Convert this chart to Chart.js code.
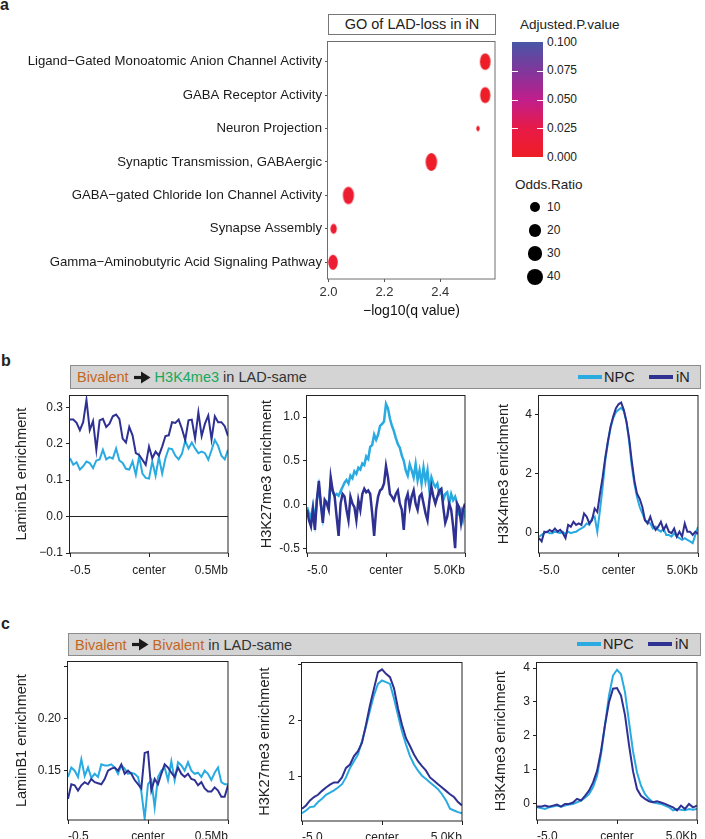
<!DOCTYPE html>
<html>
<head>
<meta charset="utf-8">
<script src="https://cdn.jsdelivr.net/npm/chart.js@4.4.1/dist/chart.umd.min.js"></script>
<style>
  body { margin: 0; background: #fff; width: 705px; height: 839px; overflow: hidden; position: relative;
         font-family: 'Liberation Sans', Arial, sans-serif; color: #222; }
  canvas { position: absolute; }
  .abs { position: absolute; white-space: nowrap; }
  .panel { position: absolute; font-weight: bold; font-size: 16px; line-height: 16px; }
  .hdr { position: absolute; box-sizing: border-box; background: #d4d4d4; border: 1px solid #8c8c8c;
         font-size: 14.5px; display: flex; align-items: center; padding-left: 6px; white-space: nowrap; }
  .key { position: absolute; height: 4px; width: 24px; }
  .keytxt { position: absolute; font-size: 14.5px; line-height: 17px; }
</style>
</head>
<body>

<div class="panel" style="left:0;top:-3px;">a</div>
<div class="panel" style="left:1px;top:353px;">b</div>
<div class="panel" style="left:1px;top:616px;">c</div>

<div class="abs" style="left:328px;top:14px;width:168px;height:21px;box-sizing:border-box;border:1px solid #777;font-size:14.5px;line-height:19px;text-align:center;">GO of LAD-loss in iN</div>
<div class="abs" style="left:520px;top:17px;font-size:13.5px;">Adjusted.P.value</div>
<div class="abs" style="left:515px;top:177px;font-size:13.5px;">Odds.Ratio</div>
<div id="colorbar" class="abs" style="left:512px;top:42px;width:31px;height:115px;"></div>

<div class="hdr" style="left:70px;top:365px;width:631px;height:24px;">
  <span style="color:#c4661f">Bivalent</span>
  <svg width="17" height="13" style="margin:0 4px 0 5px"><path d="M0 6.5 H9" stroke="#1a1a1a" stroke-width="3.2"/><path d="M7 0.5 L16.5 6.5 L7 12.5 Z" fill="#1a1a1a"/></svg>
  <span style="color:#17a85a">H3K4me3</span><span style="color:#333">&nbsp;in LAD-same</span>
</div>
<div class="key" style="left:578px;top:375px;background:#29abe2"></div>
<div class="keytxt" style="left:604px;top:369px;">NPC</div>
<div class="key" style="left:649px;top:375px;background:#2e3192"></div>
<div class="keytxt" style="left:676px;top:369px;">iN</div>

<div class="hdr" style="left:68px;top:633px;width:633px;height:23px;">
  <span style="color:#c4661f">Bivalent</span>
  <svg width="17" height="13" style="margin:0 4px 0 5px"><path d="M0 6.5 H9" stroke="#1a1a1a" stroke-width="3.2"/><path d="M7 0.5 L16.5 6.5 L7 12.5 Z" fill="#1a1a1a"/></svg>
  <span style="color:#c4661f">Bivalent</span><span style="color:#333">&nbsp;in LAD-same</span>
</div>
<div class="key" style="left:577px;top:642px;background:#29abe2"></div>
<div class="keytxt" style="left:603px;top:636px;">NPC</div>
<div class="key" style="left:648px;top:642px;background:#2e3192"></div>
<div class="keytxt" style="left:675px;top:636px;">iN</div>

<script>
// ---- panel a: GO terms ----
const goTerms = ['Ligand\u2212Gated Monoatomic Anion Channel Activity', 'GABA Receptor Activity', 'Neuron Projection',
  'Synaptic Transmission, GABAergic', 'GABA\u2212gated Chloride Ion Channel Activity', 'Synapse Assembly',
  'Gamma\u2212Aminobutyric Acid Signaling Pathway'];
const goLogQ = [2.561, 2.561, 2.535, 2.368, 2.071, 2.018, 2.016];
const goAdjP = [0.0027, 0.0027, 0.0029, 0.0043, 0.0085, 0.0096, 0.0096];
const goOdds = [40, 36, 1, 48, 44, 10, 30];
const goXTicks = [2.0, 2.2, 2.4];
const oddsLegend = [10, 20, 30, 40];
const pLegendLabels = ['0.100', '0.075', '0.050', '0.025', '0.000'];

// ---- panel b ----
const laminTicksB = [-0.1, 0, 0.1, 0.2, 0.3];
const laminLabelsB = ['\u22120.1', '0.0', '0.1', '0.2', '0.3'];
const mbTicks = [-0.5, 0, 0.5];
const mbLabels = ['-0.5', 'center', '0.5Mb'];
const kbTicks = [-5, 0, 5];
const kbLabels = ['-5.0', 'center', '5.0Kb'];
const bLaminIN = [0.266,0.266,0.257,0.237,0.259,0.32,0.237,0.262,0.183,0.264,
  0.268,0.246,0.255,0.275,0.28,0.268,0.214,0.203,0.246,0.223,
  0.174,0.169,0.156,0.142,0.192,0.16,0.178,0.167,0.192,0.221,
  0.223,0.259,0.257,0.266,0.241,0.21,0.264,0.266,0.214,0.286,
  0.221,0.255,0.277,0.212,0.275,0.259,0.259,0.248,0.221];
const bLaminNPC = [0.16,0.142,0.149,0.129,0.138,0.151,0.147,0.133,0.154,0.157,
  0.183,0.157,0.163,0.159,0.187,0.154,0.147,0.131,0.129,0.151,
  0.115,0.165,0.118,0.106,0.104,0.151,0.112,0.163,0.118,0.16,
  0.187,0.185,0.167,0.157,0.172,0.208,0.187,0.203,0.187,0.174,
  0.178,0.174,0.156,0.182,0.21,0.194,0.167,0.157,0.183];
const k27TicksB = [-0.5, 0, 0.5, 1.0];
const k27LabelsB = ['-0.5', '0.0', '0.5', '1.0'];
const bK27IN = [-0.06,-0.18,-0.25,-0.06,-0.29,0.05,0.27,0.01,-0.21,0.05,
  0.01,-0.06,0.31,0.16,0.09,-0.14,-0.36,0.01,0.12,0.09,
  -0.06,-0.18,0.09,0.01,-0.03,-0.18,0.05,-0.06,0.12,0.18,
  0.14,0.16,0.12,-0.1,-0.36,-0.06,0.09,0.16,0.18,0.24,0.44,
  0.31,0.12,0.09,0.05,0.12,0.16,0.01,-0.06,-0.29,0.05,
  0.12,-0.03,0.09,0.16,0.01,-0.06,0.09,0.12,0.01,-0.1,
  -0.18,0.05,0.2,0.09,0.01,0.09,0.16,0.18,-0.03,-0.21,
  -0.14,0.01,-0.06,-0.25,-0.5,0.01,-0.03,-0.21,-0.06,0.01];
const bK27NPC = [-0.03,-0.1,-0.15,-0.02,-0.2,0.05,0.2,0.0,-0.15,0.05,
  0.03,0.0,0.25,0.15,0.1,0.12,0.1,0.15,0.2,0.25,
  0.28,0.24,0.33,0.3,0.38,0.35,0.42,0.4,0.47,0.45,
  0.55,0.52,0.66,0.68,0.8,0.74,0.8,0.9,0.92,0.95,1.15,
  1.1,0.98,0.9,0.84,0.76,0.69,0.65,0.56,0.5,0.39,
  0.33,0.46,0.39,0.31,0.46,0.28,0.39,0.24,0.42,0.27,
  0.39,0.16,0.31,0.24,0.2,0.24,0.12,0.16,0.05,0.12,
  0.14,0.01,0.12,0.05,0.09,0.01,-0.1,-0.06,-0.18,-0.06];
const k4TicksB = [0, 2, 4];
const k4LabelsB = ['0', '2', '4'];
const bK4IN = [-0.2,-0.31,0.02,0,0.08,0.02,0.13,0.02,0.08,-0.03,
  -0.2,0.25,0.19,0.36,0.25,0.3,0.25,0.64,0.53,0.3,
  0.41,0.81,0.69,1.31,1.87,2.54,3.1,3.6,3.94,4.22,
  4.36,4.42,4.17,3.77,3.21,2.43,1.76,1.31,1.14,0.86,
  0.41,0.3,0.53,0.25,0.08,0.19,0.36,0.08,0.25,0.02,
  -0.03,0.13,-0.15,0.02,-0.15,0.3,0.02,0.02,-0.09,0.02,-0.06];
const bK4NPC = [-0.15,-0.09,-0.03,0.02,-0.03,-0.03,0.02,0,-0.03,0.02,
  -0.06,0.02,-0.03,0,0.02,0.08,0.13,0.19,0.3,0.25,
  0.47,0.53,0.02,0.75,1.53,2.43,3.05,3.55,3.89,4.09,
  4.17,4.24,4.13,3.77,3.1,2.26,1.65,1.2,0.86,0.64,
  0.41,0.36,0.3,0.13,0.19,0.08,0.02,0.13,-0.09,-0.09,
  -0.15,-0.03,-0.15,-0.2,-0.26,-0.2,-0.26,-0.31,-0.37,-0.09,0.19];

// ---- panel c ----
const laminTicksC = [0.15, 0.20, 0.25];
const laminLabelsC = ['0.15', '0.20', ''];
const cLaminIN = [0.123,0.137,0.136,0.131,0.136,0.139,0.137,0.142,0.139,0.138,
  0.137,0.142,0.15,0.152,0.153,0.15,0.156,0.147,0.15,0.147,
  0.141,0.137,0.133,0.167,0.168,0.131,0.142,0.137,0.147,0.156,
  0.153,0.148,0.144,0.153,0.147,0.144,0.147,0.142,0.141,0.136,
  0.139,0.133,0.13,0.13,0.134,0.131,0.125,0.125,0.136];
const cLaminNPC = [0.144,0.153,0.15,0.144,0.161,0.145,0.153,0.143,0.147,0.144,
  0.156,0.155,0.155,0.156,0.153,0.147,0.155,0.152,0.147,0.148,
  0.147,0.144,0.13,0.104,0.137,0.141,0.115,0.144,0.15,0.153,
  0.141,0.159,0.141,0.158,0.155,0.15,0.158,0.15,0.147,0.148,
  0.144,0.15,0.147,0.141,0.148,0.153,0.139,0.137,0.137];
const k27TicksC = [1, 2, 3];
const k27LabelsC = ['1', '2', ''];
const cK27IN = [0.43,0.49,0.58,0.64,0.68,0.75,0.81,0.86,0.9,0.9,
  0.99,1.16,1.22,1.37,1.46,1.61,1.93,2.28,2.58,2.87,
  2.92,2.84,2.78,2.58,2.22,1.93,1.69,1.55,1.4,1.28,
  1.19,1.11,0.99,0.93,0.87,0.81,0.75,0.69,0.64,0.55,0.49];
const cK27NPC = [0.35,0.4,0.46,0.47,0.55,0.61,0.68,0.72,0.76,0.81,
  0.87,0.99,1.16,1.28,1.4,1.64,1.9,2.19,2.46,2.66,
  2.72,2.69,2.66,2.4,2.1,1.81,1.58,1.37,1.22,1.11,
  1.02,0.96,0.9,0.84,0.78,0.69,0.58,0.43,0.4,0.37,0.35];
const k4TicksC = [0, 1, 2, 3, 4];
const k4LabelsC = ['0', '1', '2', '3', '4'];
const cK4IN = [-0.1,-0.1,-0.07,-0.1,-0.07,-0.04,-0.1,-0.02,-0.02,0.02,
  0.13,0.08,0.22,0.37,0.61,0.95,1.54,2.32,2.99,3.39,
  3.41,3.19,2.61,1.73,0.95,0.42,0.22,0.13,0.06,0.03,
  0.06,0.02,-0.02,-0.07,-0.12,-0.21,-0.07,-0.17,-0.02,-0.12,-0.07];
const cK4NPC = [-0.12,-0.14,-0.17,-0.12,-0.1,-0.07,-0.1,-0.07,-0.04,-0.02,
  0.03,0.08,0.16,0.27,0.47,0.81,1.44,2.32,3.19,3.78,
  3.95,3.82,3.29,2.41,1.54,0.91,0.52,0.27,0.13,0.03,
  0,-0.02,-0.07,-0.12,-0.21,-0.17,-0.19,-0.21,-0.17,-0.19,-0.17];

const NPC_COLOR = '#29abe2';
const IN_COLOR = '#2e3192';
Chart.defaults.font.family = "'Liberation Sans', Arial, sans-serif";
Chart.defaults.color = '#222';

// frame around the plot area
const frame = {
  id: 'frame',
  afterDatasetsDraw(chart, args, opts) {
    const a = chart.chartArea, g = chart.ctx;
    g.save();
    g.strokeStyle = opts.color || '#222';
    g.lineWidth = 1;
    g.strokeRect(Math.round(a.left) - 0.5, Math.round(a.top) + 0.5,
      Math.round(a.right - a.left) + 0.5, Math.round(a.bottom - a.top) - 0.5);
    g.restore();
  }
};

function addCanvas(left, top, w, h) {
  const c = document.createElement('canvas');
  c.width = w; c.height = h;
  c.style.left = left + 'px';
  c.style.top = top + 'px';
  document.body.appendChild(c);
  return c;
}

// ---- GO dot plot ----
const pStops = [[0, [238, 30, 36]], [0.025, [232, 26, 72]], [0.05, [192, 30, 140]], [0.075, [128, 55, 155]], [0.1, [72, 86, 166]]];
function pColor(p) {
  for (let i = 1; i < pStops.length; i++) {
    if (p <= pStops[i][0]) {
      const [p0, c0] = pStops[i - 1], [p1, c1] = pStops[i];
      const t = (p - p0) / (p1 - p0);
      return 'rgb(' + c0.map((v, k) => Math.round(v + (c1[k] - v) * t)).join(',') + ')';
    }
  }
  return 'rgb(' + pStops[pStops.length - 1][1].join(',') + ')';
}
function dotSize(odds) { return 2.12 * Math.sqrt(odds) + 3.3; }

const dotCache = {};
function dotImage(raw) {
  const key = raw.odds + '_' + raw.p;
  if (dotCache[key]) return dotCache[key];
  const h = dotSize(raw.odds), w = h * 0.64;
  const cv = document.createElement('canvas');
  cv.width = Math.ceil(w) + 2; cv.height = Math.ceil(h) + 2;
  const g = cv.getContext('2d');
  g.fillStyle = pColor(raw.p);
  g.beginPath();
  g.ellipse(cv.width / 2, cv.height / 2, w / 2, h / 2, 0, 0, Math.PI * 2);
  g.fill();
  dotCache[key] = cv;
  return cv;
}

const canvasA = addCanvas(0, 30, 507, 290);
new Chart(canvasA, {
  type: 'scatter',
  data: {
    datasets: [{
      data: goLogQ.map((x, i) => ({ x: x, y: i, odds: goOdds[i], p: goAdjP[i] })),
      pointStyle: ctx => ctx.raw ? dotImage(ctx.raw) : 'circle',
      pointRadius: 6,
      clip: false
    }]
  },
  options: {
    responsive: false, animation: false, events: [],
    layout: { padding: { top: 9, right: 12, left: 0, bottom: 0 } },
    plugins: { legend: { display: false }, tooltip: { enabled: false }, frame: { color: '#6e6e6e' } },
    scales: {
      x: {
        type: 'linear', min: 1.998, max: 2.596,
        afterBuildTicks: s => { s.ticks = goXTicks.map(v => ({ value: v })); },
        afterFit: s => { s.height = 41; },
        ticks: { font: { size: 13 }, color: '#333', padding: 3, maxRotation: 0, autoSkip: false,
                 callback: v => v.toFixed(1) },
        grid: { drawOnChartArea: false, tickLength: 3, color: '#555' },
        border: { display: false },
        title: { display: true, text: '\u2212log10(q value)', font: { size: 14 }, color: '#111', padding: 0 }
      },
      y: {
        type: 'linear', reverse: true, min: -0.62, max: 6.5,
        afterBuildTicks: s => { s.ticks = goTerms.map((t, i) => ({ value: i })); },
        afterFit: s => { s.width = 328; },
        ticks: { font: { size: 13.2 }, color: '#1a1a1a', padding: 3, autoSkip: false,
                 callback: (v, i) => goTerms[i] },
        grid: { drawOnChartArea: false, tickLength: 3, color: '#555' },
        border: { display: false }
      }
    }
  },
  plugins: [frame]
});

// colour bar legend
const cb = document.getElementById('colorbar');
cb.style.background = 'linear-gradient(to top, ' +
  pStops.map(s => 'rgb(' + s[1].join(',') + ') ' + (s[0] / 0.1 * 100) + '%').join(', ') + ')';
pLegendLabels.forEach((lab, i) => {
  const y = 42 + i * 115 / (pLegendLabels.length - 1);
  const t = document.createElement('div');
  t.className = 'abs';
  t.style.cssText = 'left:547px;top:' + (y - 7.5) + 'px;font-size:12px;line-height:15px;';
  t.textContent = lab;
  document.body.appendChild(t);
  if (i > 0 && i < pLegendLabels.length - 1) {
    ['512px', '537px'].forEach(x => {
      const m = document.createElement('div');
      m.className = 'abs';
      m.style.cssText = 'left:' + x + ';top:' + Math.round(y) + 'px;width:6px;height:1px;background:#fff;';
      document.body.appendChild(m);
    });
  }
});

// size legend
oddsLegend.forEach((o, i) => {
  const y = 207 + i * 23.3;
  const d = dotSize(o);
  const dot = document.createElement('div');
  dot.className = 'abs';
  dot.style.cssText = 'left:' + (535 - d / 2) + 'px;top:' + (y - d / 2) + 'px;width:' + d + 'px;height:' + d + 'px;border-radius:50%;background:#000;';
  document.body.appendChild(dot);
  const t = document.createElement('div');
  t.className = 'abs';
  t.style.cssText = 'left:547px;top:' + (y - 7.5) + 'px;font-size:12px;line-height:15px;';
  t.textContent = o;
  document.body.appendChild(t);
});

// ---- profile plots ----
function toXY(vals, x0, x1) {
  return vals.map((v, i) => ({ x: x0 + i * (x1 - x0) / (vals.length - 1), y: v }));
}

function profile(o) {
  const left = Math.round(o.titleX - 8.7);
  const yw = o.box.x - left;
  const xh = 28;
  const c = addCanvas(left, o.box.y - 8, yw + o.box.w + 4, 8 + o.box.h + xh);
  const xr = [o.xTicks[0], o.xTicks[o.xTicks.length - 1]];
  new Chart(c, {
    type: 'line',
    data: {
      datasets: [
        { label: 'iN', data: toXY(o.iN, xr[0], xr[1]), borderColor: IN_COLOR, borderWidth: o.lw || 2, pointRadius: 0 },
        { label: 'NPC', data: toXY(o.npc, xr[0], xr[1]), borderColor: NPC_COLOR, borderWidth: o.lw || 2, pointRadius: 0 }
      ]
    },
    options: {
      responsive: false, animation: false, events: [],
      layout: { padding: { top: 8, right: 4, left: 0, bottom: 0 } },
      plugins: { legend: { display: false }, tooltip: { enabled: false }, frame: { color: '#222' } },
      scales: {
        x: {
          type: 'linear', min: xr[0], max: xr[1],
          afterBuildTicks: s => { s.ticks = o.xTicks.map(v => ({ value: v })); },
          afterFit: s => { s.height = xh; },
          ticks: { align: 'inner', maxRotation: 0, autoSkip: false, padding: o.xPad, font: { size: 12 }, color: '#222',
                   callback: (v, i) => o.xLabels[i] },
          grid: { drawOnChartArea: false, tickLength: 4, color: '#222' },
          border: { display: false }
        },
        y: {
          type: 'linear', min: o.yr[0], max: o.yr[1],
          afterBuildTicks: s => { s.ticks = o.yTicks.map(v => ({ value: v })); },
          afterFit: s => { s.width = yw; },
          ticks: { autoSkip: false, padding: 3, font: { size: 12 }, color: '#222',
                   callback: (v, i) => o.yLabels[i] },
          grid: {
            drawOnChartArea: !!o.zeroLine, tickLength: 4, tickColor: '#222',
            color: ctx => (ctx.tick && ctx.tick.value === 0) ? '#222' : 'rgba(0,0,0,0)'
          },
          border: { display: false },
          title: { display: true, text: o.yTitle, font: { size: 14.5 }, color: '#222', padding: 0 }
        }
      }
    },
    plugins: [frame]
  });
}

profile({ box: { x: 70, y: 393, w: 160, h: 160 }, titleX: 22, yTitle: 'LaminB1 enrichment',
  yr: [-0.1, 0.333], yTicks: laminTicksB, yLabels: laminLabelsB, xTicks: mbTicks, xLabels: mbLabels,
  iN: bLaminIN, npc: bLaminNPC, zeroLine: true, xPad: 6 });
profile({ box: { x: 307, y: 393, w: 160, h: 160 }, titleX: 267, yTitle: 'H3K27me3 enrichment',
  yr: [-0.555, 1.25], yTicks: k27TicksB, yLabels: k27LabelsB, xTicks: kbTicks, xLabels: kbLabels,
  iN: bK27IN, npc: bK27NPC, lw: 2.5, xPad: 6 });
profile({ box: { x: 539, y: 393, w: 161, h: 160 }, titleX: 504, yTitle: 'H3K4me3 enrichment',
  yr: [-0.706, 4.67], yTicks: k4TicksB, yLabels: k4LabelsB, xTicks: kbTicks, xLabels: kbLabels,
  iN: bK4IN, npc: bK4NPC, xPad: 6 });

profile({ box: { x: 68, y: 659, w: 161, h: 161 }, titleX: 22, yTitle: 'LaminB1 enrichment',
  yr: [0.1028, 0.2547], yTicks: laminTicksC, yLabels: laminLabelsC, xTicks: mbTicks, xLabels: mbLabels,
  iN: cLaminIN, npc: cLaminNPC, xPad: 5 });
profile({ box: { x: 302, y: 660, w: 161, h: 161 }, titleX: 265, yTitle: 'H3K27me3 enrichment',
  yr: [0.212, 3.047], yTicks: k27TicksC, yLabels: k27LabelsC, xTicks: kbTicks, xLabels: kbLabels,
  iN: cK27IN, npc: cK27NPC, xPad: 5 });
profile({ box: { x: 537, y: 660, w: 161, h: 160 }, titleX: 501, yTitle: 'H3K4me3 enrichment',
  yr: [-0.496, 4.175], yTicks: k4TicksC, yLabels: k4LabelsC, xTicks: kbTicks, xLabels: kbLabels,
  iN: cK4IN, npc: cK4NPC, xPad: 5 });
</script>
</body>
</html>
